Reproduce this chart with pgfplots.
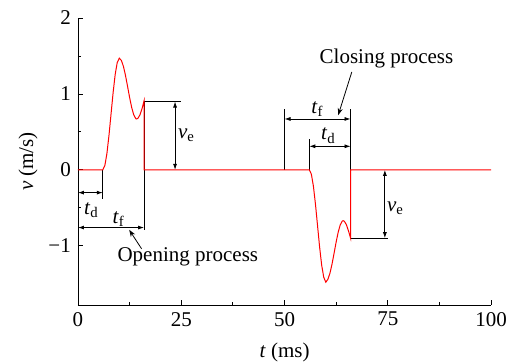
\documentclass[border=0pt]{standalone}
\usepackage{fontspec}
\setmainfont{Liberation Serif}
\usepackage{pgfplots}
\pgfplotsset{compat=1.18}
\usetikzlibrary{arrows.meta}
\begin{document}
\rmfamily\fontsize{21}{25}\selectfont
\begin{tikzpicture}[font=\rmfamily\fontsize{21}{25}\selectfont]
\begin{axis}[
  scale only axis, width=413pt, height=287pt,
  xmin=0, xmax=100, ymin=-1.78, ymax=2,
  axis x line*=bottom, axis y line*=left,
  axis line style={-, line width=0.8pt},
  xtick={0,25,50,75,100}, minor x tick num=1,
  xticklabels={0,25,50,75,100},
  ytick={-1,0,1,2}, minor y tick num=1,
  yticklabels={−1,0,1,2},
  tick style={black, line width=0.8pt},
  major tick length=5pt, minor tick length=3pt,
  tick align=inside,
  xlabel={\textit{t} (ms)}, ylabel={\textit{v} (m/s)},
  xlabel style={at={(axis description cs:0.5,-0.164)}, anchor=center},
  ylabel style={at={(axis description cs:-0.121,0.5)}, anchor=center, rotate=0},
  clip=false,
]
\tikzset{dim/.style={black, line width=0.8pt, {Latex[length=6pt,width=4pt]}-{Latex[length=6pt,width=4pt]}}}
% opening annotations
\addplot[black, line width=0.8pt] coordinates {(6,0) (6,-0.38)};
\addplot[black, line width=0.8pt] coordinates {(16,0.9) (16,-0.79)};
\addplot[black, line width=0.8pt] coordinates {(16,0.9) (25,0.9)};
\draw[dim] (0,-0.30) -- (6,-0.30);
\draw[dim] (0,-0.76) -- (16,-0.76);
\draw[dim] (23.5,0) -- (23.5,0.9);
\node at (3.2,-0.53) {\textit{t}\textsubscript{d}};
\node at (9.8,-0.65) {\textit{t}\textsubscript{f}};
\node[anchor=west, inner sep=0pt] at (24.2,0.45) {\textit{v}\textsubscript{e}};
\node at (26.6,-1.15) {Opening process};
\draw[black, line width=0.8pt, -{Stealth[length=7pt,width=5pt]}] (15.4,-1.04) -- (12.4,-0.79);
% closing annotations
\addplot[black, line width=0.8pt] coordinates {(50,0) (50,0.8)};
\addplot[black, line width=0.8pt] coordinates {(56,0) (56,0.40)};
\addplot[black, line width=0.8pt] coordinates {(66,0.8) (66,-0.9)};
\addplot[black, line width=0.8pt] coordinates {(66,-0.9) (75,-0.9)};
\draw[dim] (50,0.67) -- (66,0.67);
\draw[dim] (56,0.31) -- (66,0.31);
\draw[dim] (74.3,0) -- (74.3,-0.9);
\node at (57.9,0.80) {\textit{t}\textsubscript{f}};
\node at (60.6,0.45) {\textit{t}\textsubscript{d}};
\node[anchor=west, inner sep=0pt] at (74.8,-0.50) {\textit{v}\textsubscript{e}};
\node at (74.7,1.47) {Closing process};
\draw[black, line width=0.8pt, -{Stealth[length=7pt,width=5pt]}] (66.3,1.29) -- (63,0.72);
% velocity curve
\addplot[red, line width=1pt] coordinates {
(0,0) (6,0) (6.5,0.056) (7,0.215) (7.5,0.454) (8,0.735) (8.5,1.016) (9,1.255) (9.5,1.414) (10,1.47)
(10.5,1.442) (11,1.363) (11.5,1.243) (12,1.10) (12.5,0.952) (13,0.821) (13.5,0.724) (14,0.674) (14.2,0.67)
(14.5,0.678) (15,0.724) (15.5,0.805) (16,0.91) (16,0)
(56,0) (56.5,-0.056) (57,-0.215) (57.5,-0.454) (58,-0.735) (58.5,-1.016) (59,-1.255) (59.5,-1.414) (60,-1.48)
(60.5,-1.442) (61,-1.363) (61.5,-1.243) (62,-1.10) (62.5,-0.952) (63,-0.821) (63.5,-0.724) (64,-0.674) (64.2,-0.67)
(64.5,-0.678) (65,-0.724) (65.5,-0.805) (66,-0.90) (66,0)
(100,0)
};
\end{axis}
\pgfresetboundingbox
\path ([shift={(-78pt,-58pt)}]current axis.south west) rectangle ([shift={(20pt,18pt)}]current axis.north east);
\end{tikzpicture}
\end{document}
